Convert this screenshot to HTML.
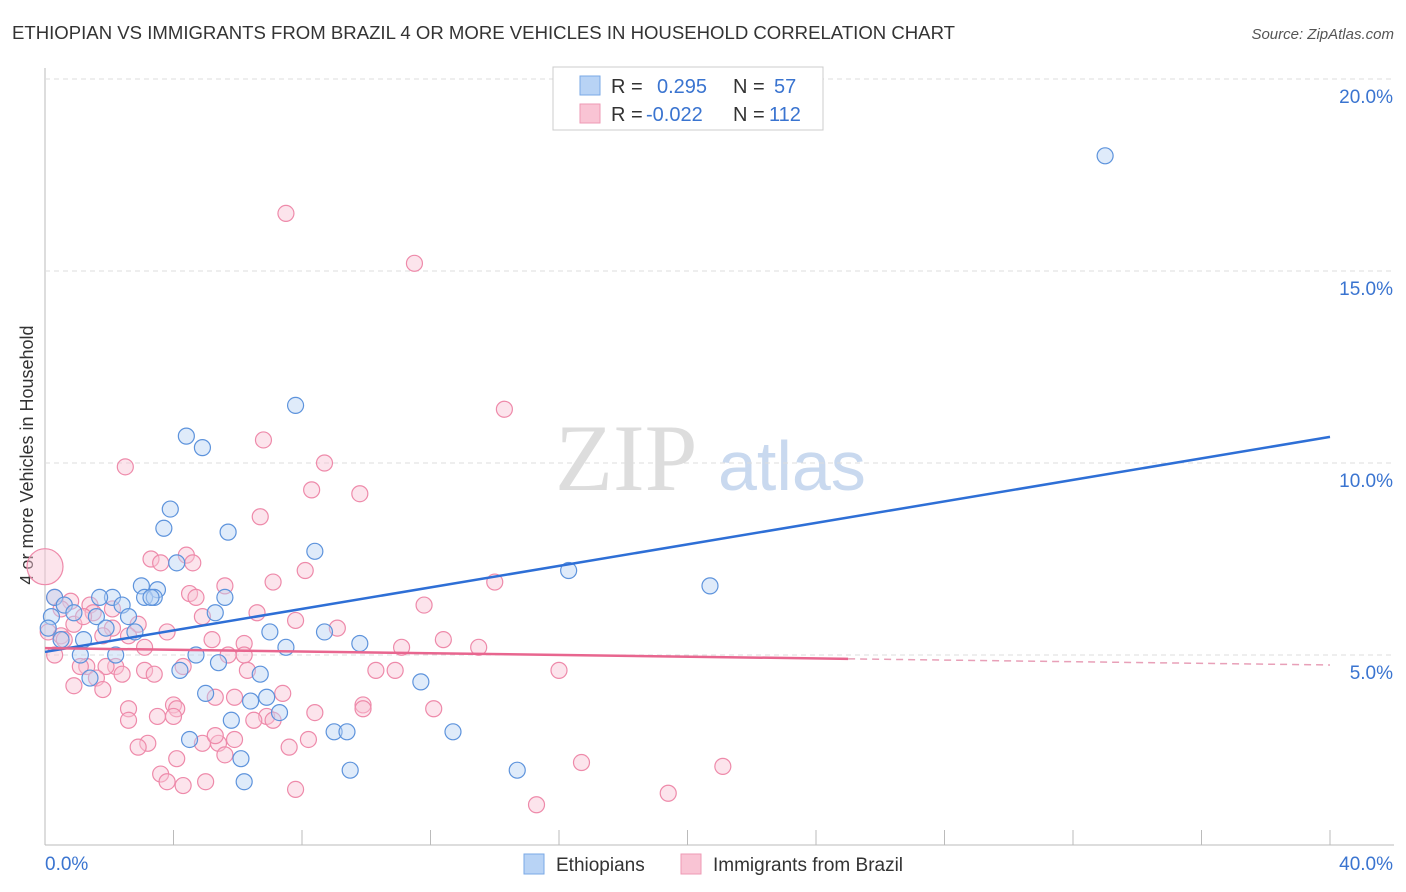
<!DOCTYPE html>
<html><head><meta charset="utf-8"><style>
body{margin:0;background:#fff;font-family:"Liberation Sans",sans-serif;}
svg{display:block}
</style></head><body>
<svg id="c" width="1406" height="892">
<text x="12" y="39" font-size="18" fill="#333" textLength="943" lengthAdjust="spacingAndGlyphs">ETHIOPIAN VS IMMIGRANTS FROM BRAZIL 4 OR MORE VEHICLES IN HOUSEHOLD CORRELATION CHART</text>
<text x="1394" y="39" font-size="15" fill="#555" font-style="italic" text-anchor="end">Source: ZipAtlas.com</text>
<text x="33" y="455" font-size="18" fill="#333" text-anchor="middle" transform="rotate(-90 33 455)">4 or more Vehicles in Household</text>
<text x="555" y="490" font-size="95" fill="#ddd" font-family="Liberation Serif">ZIP</text>
<text x="718" y="490" font-size="70" fill="#c9d9ef">atlas</text>
<g id="grid"></g><g id="pts"></g><g id="lines"></g>
<g>
<rect x="553" y="67" width="270" height="63" fill="#fff" stroke="#ccc"/>
<rect x="580" y="76" width="20" height="19" fill="#b8d3f5" stroke="#7aa8e6"/>
<rect x="580" y="104" width="20" height="19" fill="#f9c4d4" stroke="#ee9ab4"/>
<text x="611" y="93" font-size="20" fill="#333">R =</text><text x="657" y="93" font-size="20" fill="#3a74d0">0.295</text>
<text x="733" y="93" font-size="20" fill="#333">N =</text><text x="774" y="93" font-size="20" fill="#3a74d0">57</text>
<text x="611" y="121" font-size="20" fill="#333">R =</text><text x="646" y="121" font-size="20" fill="#3a74d0">-0.022</text>
<text x="733" y="121" font-size="20" fill="#333">N =</text><text x="769" y="121" font-size="20" fill="#3a74d0">112</text>
</g>
<g>
<rect x="524" y="854" width="20" height="20" fill="#b8d3f5" stroke="#7aa8e6"/>
<text x="556" y="871" font-size="19" fill="#333">Ethiopians</text>
<rect x="681" y="854" width="20" height="20" fill="#f9c4d4" stroke="#ee9ab4"/>
<text x="713" y="871" font-size="19" fill="#333">Immigrants from Brazil</text>
</g>
</svg>
<script>
const yTicks=[5,10,15,20];
const xTickLabels=["0.0%","40.0%"];
const blueX=[33.0,7.8,4.4,4.9,3.9,3.7,5.7,8.4,4.1,16.3,20.7,3.0,3.5,2.1,1.7,3.1,3.4,3.3,5.6,0.3,2.4,0.6,5.3,1.6,0.2,0.9,2.6,1.9,2.8,7.0,8.7,1.2,0.1,9.8,7.5,4.7,1.1,2.2,5.4,4.2,6.7,1.4,11.7,5.0,6.9,6.4,7.3,5.8,9.0,9.4,12.7,4.5,6.1,9.5,14.7,6.2,0.5];
const blueY=[18.0,11.5,10.7,10.4,8.8,8.3,8.2,7.7,7.4,7.2,6.8,6.8,6.7,6.5,6.5,6.5,6.5,6.5,6.5,6.5,6.3,6.3,6.1,6.0,6.0,6.1,6.0,5.7,5.6,5.6,5.6,5.4,5.7,5.3,5.2,5.0,5.0,5.0,4.8,4.6,4.5,4.4,4.3,4.0,3.9,3.8,3.5,3.3,3.0,3.0,3.0,2.8,2.3,2.0,2.0,1.7,5.4];
const pinkX=[7.5,11.5,14.3,6.8,8.7,2.5,8.3,9.8,6.7,3.3,4.4,4.6,3.6,8.1,7.1,14.0,5.6,4.5,4.7,0.0,0.3,0.8,1.4,0.5,1.5,11.8,6.6,7.8,4.9,2.9,0.9,2.1,3.8,0.1,0.5,1.8,2.6,12.4,9.1,5.2,6.2,3.1,11.1,13.5,5.7,0.3,6.2,1.3,2.2,2.4,4.3,16.0,10.9,10.3,3.1,6.3,1.1,1.9,3.4,1.6,0.9,1.8,5.3,5.9,7.4,9.9,9.9,12.1,2.6,4.0,4.1,8.4,3.5,2.6,4.0,6.9,6.5,7.1,5.9,8.2,5.4,3.2,4.9,5.3,2.9,7.6,5.6,4.1,3.6,3.8,4.3,5.0,7.8,16.7,21.1,19.4,15.3,2.1,1.2,0.6];
const pinkY=[16.5,15.2,11.4,10.6,10.0,9.9,9.3,9.2,8.6,7.5,7.6,7.4,7.4,7.2,6.9,6.9,6.8,6.6,6.5,7.3,6.5,6.4,6.3,6.2,6.1,6.3,6.1,5.9,6.0,5.8,5.8,5.7,5.6,5.6,5.5,5.5,5.5,5.4,5.7,5.4,5.3,5.2,5.2,5.2,5.0,5.0,5.0,4.7,4.7,4.5,4.7,4.6,4.6,4.6,4.6,4.6,4.7,4.7,4.5,4.4,4.2,4.1,3.9,3.9,4.0,3.7,3.6,3.6,3.6,3.7,3.6,3.5,3.4,3.3,3.4,3.4,3.3,3.3,2.8,2.8,2.7,2.7,2.7,2.9,2.6,2.6,2.4,2.3,1.9,1.7,1.6,1.7,1.5,2.2,2.1,1.4,1.1,6.2,6.0,5.4];
const blueLine=[5.08,10.68];
const pinkLine=[5.18,4.9,4.74];
const X=v=>45+v/40*1285, Y=v=>847-v*38.4;
const NS="http://www.w3.org/2000/svg";
function mk(tag,a,parent){const e=document.createElementNS(NS,tag);for(const k in a)e.setAttribute(k,a[k]);document.getElementById(parent).appendChild(e);return e;}
let ax=mk("line",{x1:45,y1:68,x2:45,y2:845,stroke:"#bbb"},"grid");


let bx=mk("line",{x1:45,y1:845,x2:1394,y2:845,stroke:"#bbb"},"grid");


for(let i=0;i<=10;i++){let t=mk("line",{x1:45+i*128.5,y1:830,x2:45+i*128.5,y2:845,stroke:"#bbb"},"grid");

}
yTicks.forEach(v=>{let g=mk("line",{x1:45,y1:Y(v),x2:1394,y2:Y(v),stroke:"#ddd","stroke-dasharray":"5,4"},"grid");


let t=mk("text",{x:1393,y:Y(v)+24,"font-size":19,fill:"#3a74d0","text-anchor":"end"},"grid");t.textContent=v.toFixed(1)+"%";

});
xTickLabels.forEach((s,i)=>{let t=mk("text",{x:i?1393:45,y:870,"font-size":19,fill:"#3a74d0","text-anchor":i?"end":"start"},"grid");t.textContent=s;

});
function pts(xs,ys,fill,stroke,name){xs.forEach((x,i)=>{let c=mk("circle",{cx:X(x),cy:Y(ys[i]),r:(x===0?18:8),fill:fill,"fill-opacity":0.45,stroke:stroke,"stroke-width":1.2},"pts");

});}
pts(pinkX,pinkY,"#f9c4d4","#ee8aaa","brazil-point");
pts(blueX,blueY,"#b8d3f5","#5d93dc","ethiopian-point");
let bl=mk("line",{x1:X(0),y1:Y(blueLine[0]),x2:X(40),y2:Y(blueLine[1]),stroke:"#2e6fd6","stroke-width":2.5},"lines");


let pl=mk("line",{x1:X(0),y1:Y(pinkLine[0]),x2:X(25),y2:Y(pinkLine[1]),stroke:"#e8668f","stroke-width":2.5},"lines");


let pd=mk("line",{x1:X(25),y1:Y(pinkLine[1]),x2:X(40),y2:Y(pinkLine[2]),stroke:"#e8a0b8","stroke-width":1.5,"stroke-dasharray":"7,5"},"lines");


</script>
</body></html>
